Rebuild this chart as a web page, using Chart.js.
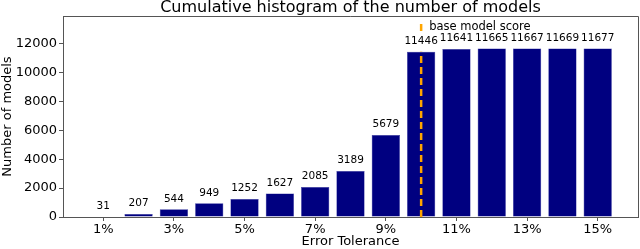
<!DOCTYPE html>
<html>
<head>
<meta charset="utf-8">
<script src="https://cdn.jsdelivr.net/npm/chart.js@4.4.0/dist/chart.umd.min.js"></script>
<style>
  html, body { margin: 0; padding: 0; background: #fff; }
</style>
</head>
<body>
<canvas id="hist" width="640" height="249"></canvas>
<script>
// data
var tolerances = ['1%', '2%', '3%', '4%', '5%', '6%', '7%', '8%', '9%', '10%', '11%', '12%', '13%', '14%', '15%'];
var modelCounts = [31, 207, 544, 949, 1252, 1627, 2085, 3189, 5679, 11446, 11641, 11665, 11667, 11669, 11677];
var yTicks = [0, 2000, 4000, 6000, 8000, 10000, 12000];
var baseTolerance = '10%';
var baseLabel = 'base model score';

Chart.defaults.font.family = "'DejaVu Sans', sans-serif";
Chart.defaults.color = '#000';

var barPoints = modelCounts.map((v, i) => ({ x: i, y: v }));
var baseIdx = tolerances.indexOf(baseTolerance);

var extras = {
  id: 'extras',
  afterDatasetsDraw: function(chart) {
    var ctx = chart.ctx;
    var area = chart.chartArea;
    var xs = chart.scales.x, ys = chart.scales.y;
    ctx.save();

    // dashed base model line
    var lx = xs.getPixelForValue(baseIdx);
    ctx.strokeStyle = '#ffa500';
    ctx.lineWidth = 2.5;
    ctx.setLineDash([7, 4]);
    ctx.beginPath();
    ctx.moveTo(lx, ys.getPixelForValue(0));
    ctx.lineTo(lx, ys.getPixelForValue(modelCounts[baseIdx]));
    ctx.stroke();
    // legend handle
    ctx.setLineDash([]);
    ctx.beginPath();
    ctx.moveTo(lx, 24);
    ctx.lineTo(lx, 31);
    ctx.stroke();

    // value labels
    ctx.fillStyle = '#000';
    ctx.font = "10.5px 'DejaVu Sans'";
    ctx.textAlign = 'center';
    ctx.textBaseline = 'bottom';
    chart.getDatasetMeta(0).data.forEach(function(bar, i) {
      ctx.fillText(String(modelCounts[i]), bar.x, bar.y - 5);
    });

    // legend text
    ctx.font = "11.5px 'DejaVu Sans'";
    ctx.textAlign = 'left';
    ctx.textBaseline = 'middle';
    ctx.fillText(baseLabel, lx + 8, 27);

    // title
    ctx.font = "16px 'DejaVu Sans'";
    ctx.textAlign = 'center';
    ctx.fillText('Cumulative histogram of the number of models', (area.left + area.right) / 2, 8);

    // top and right frame
    ctx.strokeStyle = '#555';
    ctx.lineWidth = 1;
    ctx.beginPath();
    ctx.moveTo(area.left, area.top + 0.5);
    ctx.lineTo(area.right + 0.5, area.top + 0.5);
    ctx.lineTo(area.right + 0.5, area.bottom);
    ctx.stroke();
    ctx.restore();
  }
};

var ctx1 = document.getElementById('hist');
var histChart = new Chart(ctx1, {
  type: 'bar',
  data: {
    datasets: [{
      label: 'models',
      data: barPoints,
      backgroundColor: '#000080',
      borderColor: '#2a2a9a',
      borderWidth: 0.5,
      barPercentage: 0.8,
      categoryPercentage: 1.0
    }]
  },
  options: {
    responsive: false,
    animation: false,
    devicePixelRatio: 1,
    layout: { padding: { top: 16, right: 2, left: 0, bottom: 0 } },
    plugins: {
      legend: { display: false },
      title: { display: false },
      tooltip: { enabled: false }
    },
    scales: {
      x: {
        type: 'linear',
        offset: false,
        min: -1.14,
        max: 15.14,
        afterBuildTicks: function(axis) {
          axis.ticks = tolerances.map((t, i) => ({ value: i })).filter(t => t.value % 2 === 0);
        },
        afterFit: function(axis) { axis.height = 32; },
        ticks: {
          font: { size: 13 },
          padding: 1,
          maxRotation: 0,
          callback: function(v) { return tolerances[v]; }
        },
        grid: { drawOnChartArea: false, offset: false, tickLength: 4, color: '#555' },
        border: { color: '#555' },
        title: { display: true, text: 'Error Tolerance', font: { size: 13 }, padding: 0 }
      },
      y: {
        min: 0,
        max: 13920,
        afterBuildTicks: function(axis) {
          axis.ticks = yTicks.map(v => ({ value: v }));
        },
        afterFit: function(axis) { axis.width = 63; },
        ticks: { font: { size: 13 }, padding: 2, callback: function(v) { return String(v); } },
        grid: { drawOnChartArea: false, tickLength: 4, color: '#555' },
        border: { color: '#555' },
        title: { display: true, text: 'Number of models', font: { size: 13 }, padding: 0 }
      }
    }
  },
  plugins: [extras]
});
</script>
</body>
</html>
